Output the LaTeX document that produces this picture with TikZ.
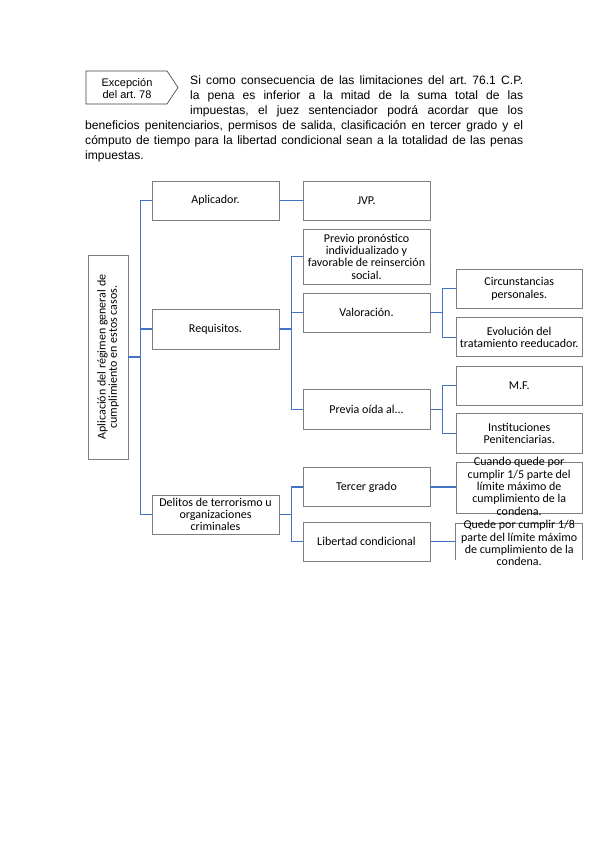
\documentclass[tikz,border=0pt]{standalone}
\usepackage{fontspec}
\setmainfont{Liberation Sans}
\newfontfamily\calibri{Carlito}
\definecolor{conn}{RGB}{68,114,196}
\definecolor{bord}{RGB}{127,127,127}
\newcommand{\hdrfont}{\fontsize{12.1}{14.9}\selectfont}
\frenchspacing
\begin{document}
\begin{tikzpicture}[x=1pt,y=-1pt,
  bx/.style={draw=bord,line width=0.75pt,minimum width=127pt,minimum height=39pt,inner sep=2pt,align=center,font=\calibri\fontsize{12}{12.3}\selectfont},
  bxw/.style={bx,minimum width=126.5pt},
  txt/.style={inner sep=0pt,align=center,font=\calibri\fontsize{12}{12.3}\selectfont},
  hline/.style={anchor=base west,inner sep=0pt,font=\hdrfont},
  link/.style={draw=conn,line width=1.1pt}]
\useasboundingbox (0,0) rectangle (599,848);
\fill[white] (0,0) rectangle (599,848);

% header
\draw[black!75,line width=0.6pt] (86,71) -- (167,71) -- (178,87.5) -- (167,104) -- (86,104) -- cycle;
\node[align=center,inner sep=0pt,font=\fontsize{11}{12.7}\selectfont] (exc) at (127,88.5) {Excepción\\del art. 78};
\node[hline] (h1) at (190,84.8) {\makebox[333pt][s]{Si como consecuencia de las limitaciones del art. 76.1 C.P.}};
\node[hline] (h2) at (190,99.7) {\makebox[333pt][s]{la pena es inferior a la mitad de la suma total de las}};
\node[hline] (h3) at (190,114.5) {\makebox[333pt][s]{impuestas, el juez sentenciador podrá acordar que los}};
\node[hline] (h4) at (85,129.4) {\makebox[438pt][s]{beneficios penitenciarios, permisos de salida, clasificación en tercer grado y el}};
\node[hline] (h5) at (85,144.2) {\makebox[438pt][s]{cómputo de tiempo para la libertad condicional sean a la totalidad de las penas}};
\node[hline] (h6) at (85,159.1) {impuestas.};

% left box
\node[draw=bord,line width=0.75pt,minimum width=40pt,minimum height=204pt,inner sep=0pt] (L) at (108,357) {};
\node[txt,rotate=90,font=\calibri\fontsize{12}{11.3}\selectfont] (Lt) at (L.center) {Aplicación del régimen general de\\cumplimiento en estos casos.};

% column 1
\node[bx] (A) at (215.5,200.5) {Aplicador.};
\node[bx,minimum height=40pt] (R) at (215.5,329) {Requisitos.};
\node[bx] (D) at (215.5,514.5) {Delitos de terrorismo u\\organizaciones\\criminales};

% column 2
\node[bx] (J) at (366.5,200.5) {JVP.};
\node[bx,minimum height=55pt] (P) at (366.5,256.5) {Previo pronóstico\\individualizado y\\favorable de reinserción\\social.};
\node[bx] (V) at (366.5,312.8) {Valoración.};
\node[bx,minimum height=40pt] (O) at (366.5,409.3) {Previa oída al...};
\node[bx] (T) at (366.5,487) {Tercer grado};
\node[bx] (LC) at (366.5,541.7) {Libertad condicional};

% column 3
\node[bxw] (C) at (519.2,288.8) {Circunstancias\\personales.};
\node[bxw] (E) at (519.2,337.2) {Evolución del\\tratamiento reeducador.};
\node[bxw] (M) at (519.2,385.5) {M.F.};
\node[bxw,minimum height=40pt] (I) at (519.2,433.3) {Instituciones\\Penitenciarias.};
\node[bxw,minimum height=50.6pt] (CQ) at (519.2,488) {};
\node[txt] (CQt) at (519.2,486.3) {Cuando quede por\\cumplir 1/5 parte del\\límite máximo de\\cumplimiento de la\\condena.};
\node[inner sep=0pt,minimum width=126.5pt,minimum height=36pt] (Q) at (519.2,542) {};
\draw[bord,line width=0.75pt] (Q.south west) -- (Q.north west) -- (Q.north east) -- (Q.south east);
\node[txt] (Qt) at (519.2,543.2) {Quede por cumplir 1/8\\parte del límite máximo\\de cumplimiento de la\\condena.};

% connectors
\foreach \c in {A,R,D} \draw[link] (L.east) -- ++(12,0) |- (\c.west);
\draw[link] (A.east) -- (J.west);
\foreach \c in {P,V,O} \draw[link] (R.east) -- ++(12,0) |- (\c.west);
\foreach \c in {C,E} \draw[link] (V.east) -- ++(12.5,0) |- (\c.west);
\foreach \c in {M,I} \draw[link] (O.east) -- ++(12.5,0) |- (\c.west);
\foreach \c in {T,LC} \draw[link] (D.east) -- ++(12.5,0) |- (\c.west);
\draw[link] (T.east) -- (T.east -| CQ.west);
\draw[link] (LC.east) -- (LC.east -| Q.west);
\end{tikzpicture}
\end{document}
